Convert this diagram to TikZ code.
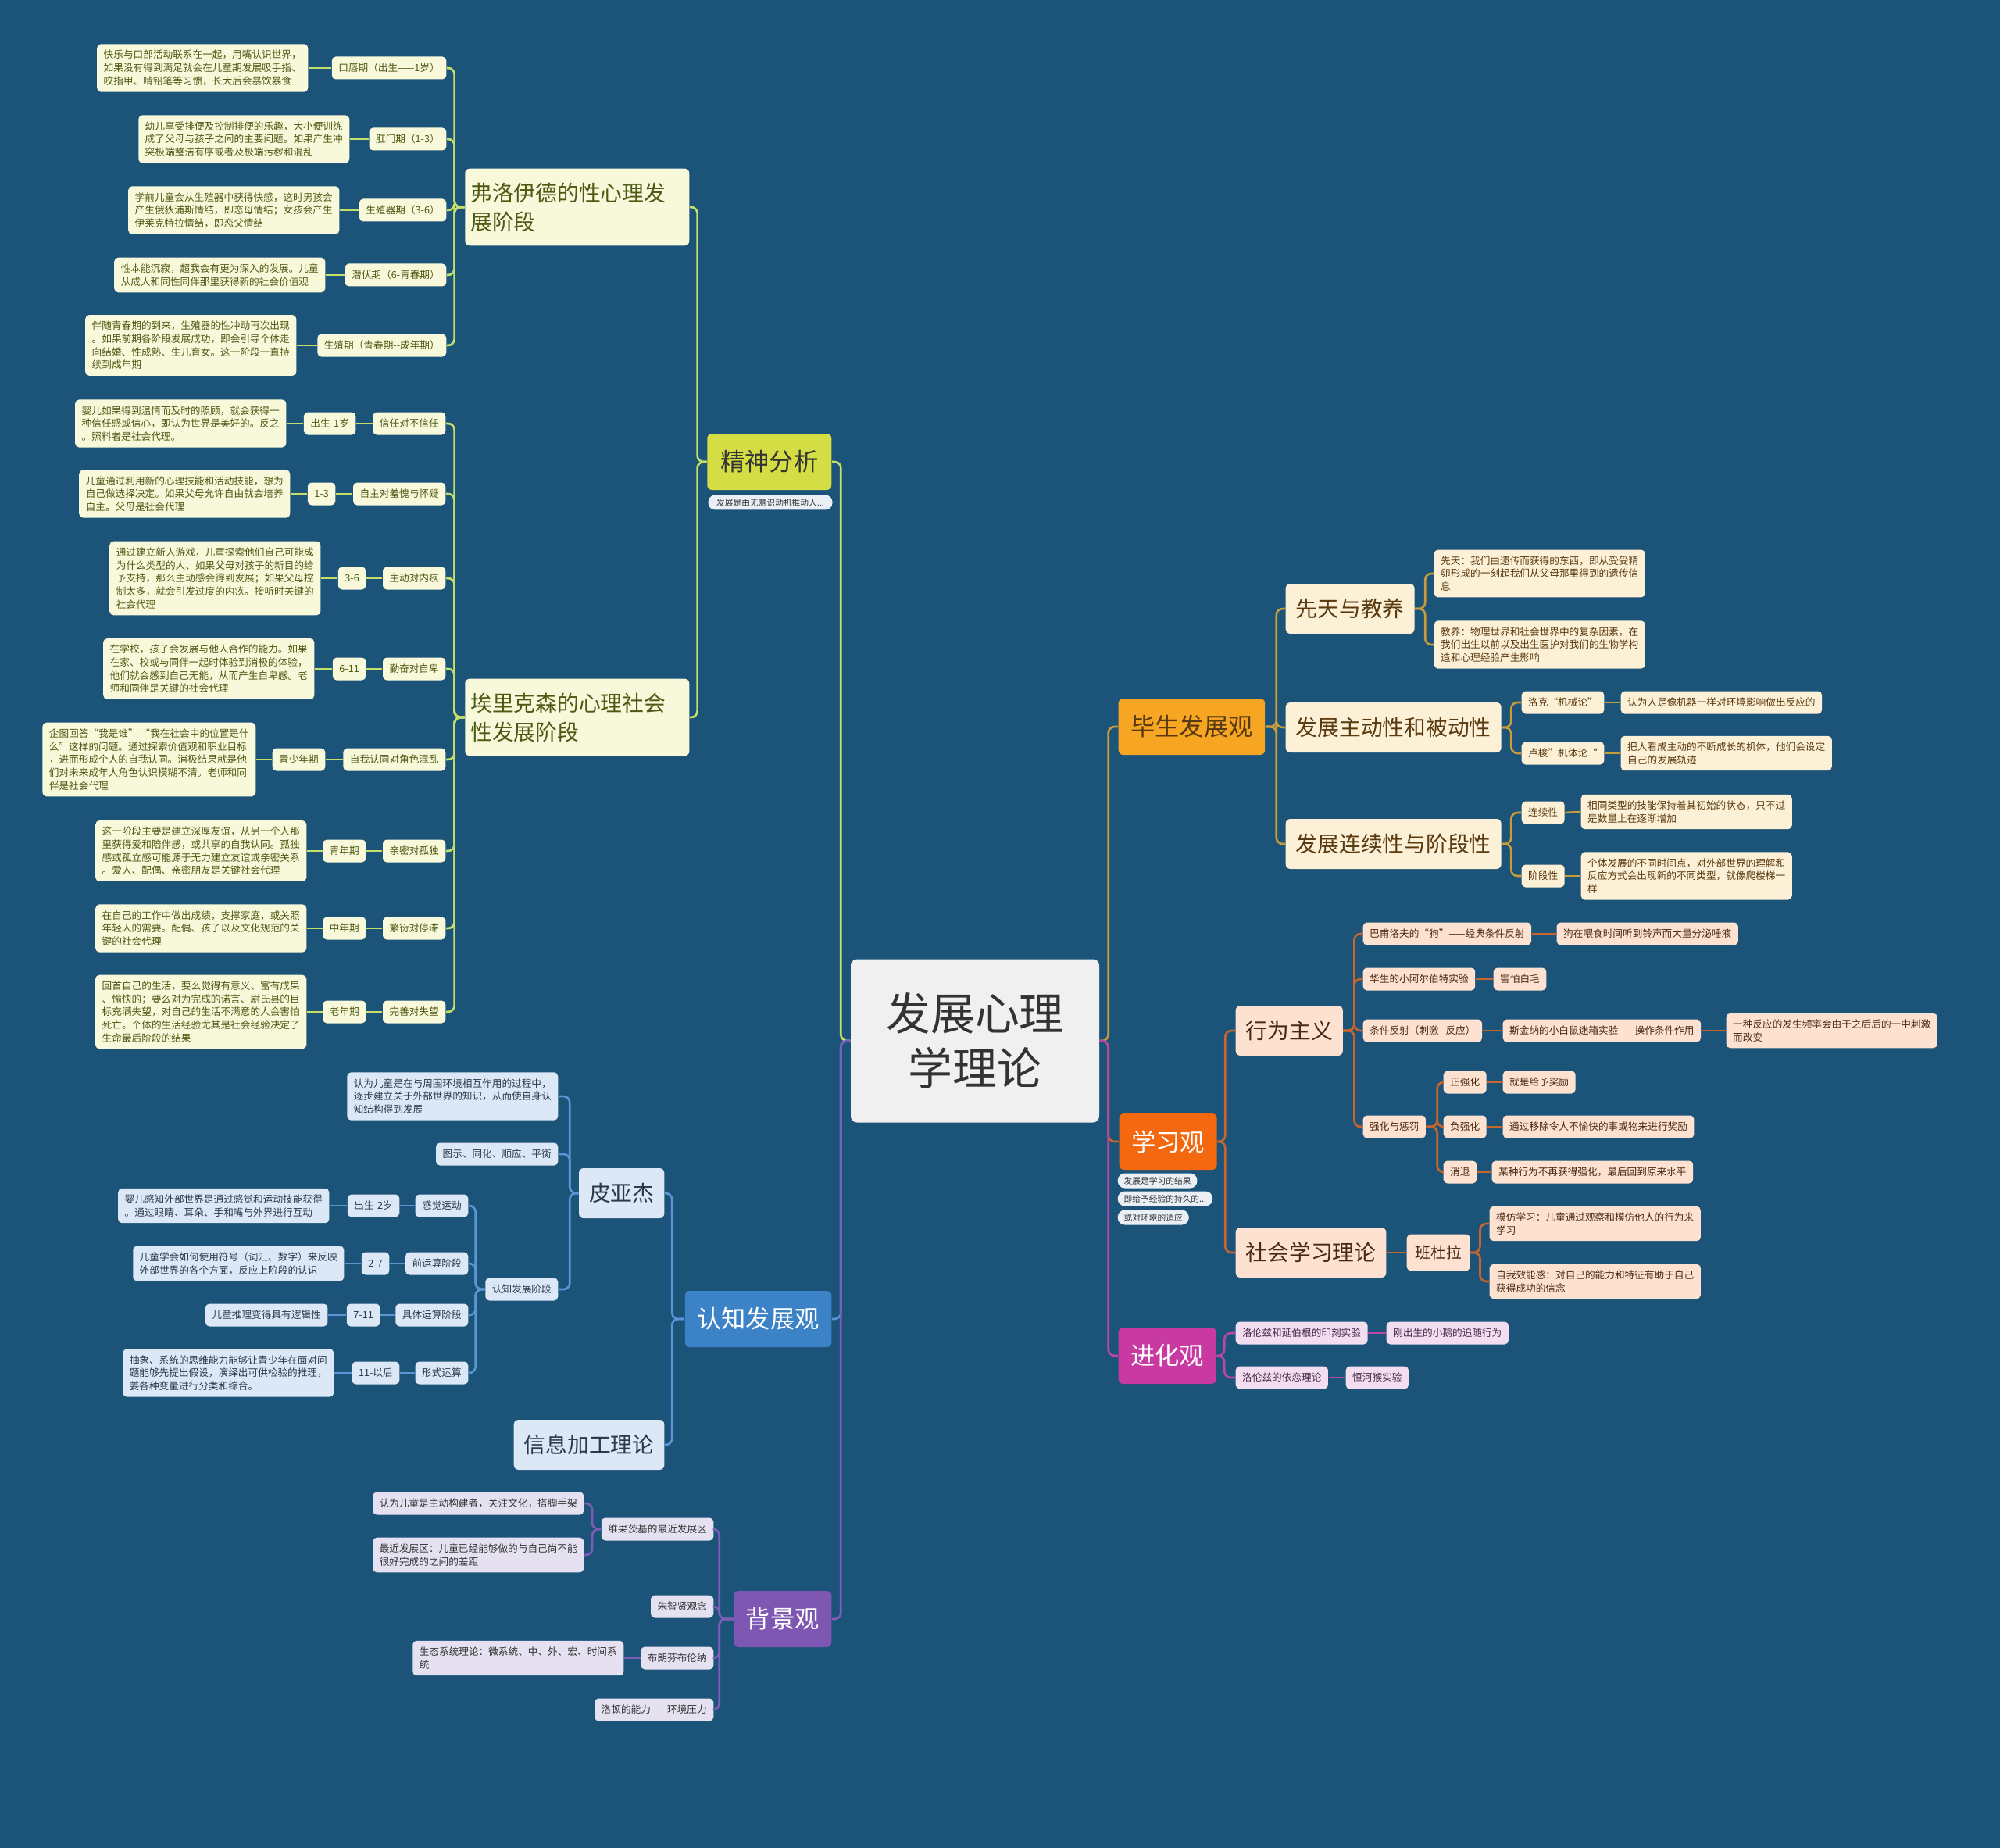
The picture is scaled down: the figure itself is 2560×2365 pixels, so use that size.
\documentclass[tikz,border=0pt]{standalone}
\usepackage{fontspec}
\setmainfont{Noto Sans CJK SC}
\definecolor{bgBlue}{HTML}{1B5379}
\definecolor{rootFill}{HTML}{F0F0F0}
\definecolor{rootText}{HTML}{333333}
\definecolor{pillFill}{HTML}{E9EFF5}
% 精神分析
\definecolor{psLine}{HTML}{C5DF68}
\definecolor{psMain}{HTML}{D4DD43}
\definecolor{psFill}{HTML}{F8F8DA}
\definecolor{psText}{HTML}{4E5A14}
% 认知发展观
\definecolor{cgLine}{HTML}{5A95D5}
\definecolor{cgMain}{HTML}{3C82C6}
\definecolor{cgFill}{HTML}{DCE8F5}
\definecolor{cgText}{HTML}{2B3A4A}
% 背景观
\definecolor{bkLine}{HTML}{7E5DB8}
\definecolor{bkMain}{HTML}{7E57B2}
\definecolor{bkFill}{HTML}{E6E1F1}
\definecolor{bkText}{HTML}{333333}
% 毕生发展观
\definecolor{lsLine}{HTML}{C99B3B}
\definecolor{lsMain}{HTML}{F6A623}
\definecolor{lsFill}{HTML}{FCF0D6}
\definecolor{lsText}{HTML}{5A3A10}
% 学习观
\definecolor{lnLine}{HTML}{C9642C}
\definecolor{lnMain}{HTML}{F4680F}
\definecolor{lnFill}{HTML}{FDE2D2}
\definecolor{lnText}{HTML}{4A2A14}
% 进化观
\definecolor{evLine}{HTML}{BA47A6}
\definecolor{evMain}{HTML}{C83AA1}
\definecolor{evFill}{HTML}{F3DEF1}
\definecolor{evText}{HTML}{4A2A48}
\newcommand\fsSm{\fontsize{3.6pt}{4.75pt}\selectfont}
\newcommand\fsPill{\fontsize{3.05pt}{3.6pt}\selectfont}
\newcommand\fsMd{\fontsize{7.9pt}{10.5pt}\selectfont}
\newcommand\fsBan{\fontsize{5.6pt}{7pt}\selectfont}
\newcommand\fsTop{\fontsize{8.9pt}{10.5pt}\selectfont}
\newcommand\fsRoot{\fontsize{16.2pt}{19.9pt}\selectfont}

\begin{document}
\begin{tikzpicture}[x=0.1mm, y=-0.1mm,
    sm/.style={font=\fsSm, rounded corners=0.5mm, inner xsep=0.85mm, inner ysep=0.8mm, minimum height=2.9mm, align=left},
    md/.style={font=\fsMd, rounded corners=0.6mm, inner xsep=1.3mm, inner ysep=0.8mm, minimum height=6.4mm, align=left},
    topbox/.style={font=\fsTop, rounded corners=0.6mm, inner xsep=1.55mm, minimum height=7.2mm},
    pill/.style={font=\fsPill, fill=pillFill, text=rootText, rounded corners=0.9mm, inner xsep=0.8mm, inner ysep=0.45mm},
    conn/.style={line width=0.75pt, rounded corners=0.8mm},
    psSm/.style={sm, fill=psFill, text=psText},
    cgSm/.style={sm, fill=cgFill, text=cgText},
    bkSm/.style={sm, fill=bkFill, text=bkText},
    lsSm/.style={sm, fill=lsFill, text=lsText},
    lnSm/.style={sm, fill=lnFill, text=lnText},
    evSm/.style={sm, fill=evFill, text=evText}]
    \useasboundingbox (0,0) rectangle (2560,2365);
    \fill[bgBlue] (0,0) rectangle (2560,2365);

    % 根节点
    \node[fill=rootFill, text=rootText, font=\fsRoot, rounded corners=0.8mm, align=center,
          minimum width=31.8mm, minimum height=20.9mm] (root) at (1248,1332) {发展心理\\学理论};

    % 精神分析
    \node[topbox, fill=psMain, text=rootText, minimum width=15.9mm, anchor=east] (jsfx) at (1065,591) {精神分析};
    \node[pill, font=\fontsize{3.05pt}{3.5pt}\selectfont, minimum width=15.9mm] (jsfxNote) at (986,643) {发展是由无意识动机推动人...};
    \node[md, fill=psFill, text=psText, text width=27.3mm, inner xsep=0.7mm, inner ysep=1.8mm, anchor=east] (freud) at (883,265) {弗洛伊德的性心理发\\展阶段};
    \node[md, fill=psFill, text=psText, text width=27.3mm, inner xsep=0.7mm, inner ysep=1.8mm, anchor=east] (erik) at (883,918) {埃里克森的心理社会\\性发展阶段};

    % 弗洛伊德各期
    \node[psSm, anchor=east] (fs1) at (572,87) {口唇期（出生——1岁）};
    \node[psSm, anchor=east] (fd1) at (395,87) {快乐与口部活动联系在一起，用嘴认识世界，\\如果没有得到满足就会在儿童期发展吸手指、\\咬指甲、啃铅笔等习惯，长大后会暴饮暴食};
    \node[psSm, anchor=east] (fs2) at (572,178) {肛门期（1-3）};
    \node[psSm, anchor=east] (fd2) at (448,178) {幼儿享受排便及控制排便的乐趣，大小便训练\\成了父母与孩子之间的主要问题。如果产生冲\\突极端整洁有序或者及极端污秽和混乱};
    \node[psSm, anchor=east] (fs3) at (572,269) {生殖器期（3-6）};
    \node[psSm, anchor=east] (fd3) at (435,269) {学前儿童会从生殖器中获得快感，这时男孩会\\产生俄狄浦斯情结，即恋母情结；女孩会产生\\伊莱克特拉情结，即恋父情结};
    \node[psSm, anchor=east] (fs4) at (572,352) {潜伏期（6-青春期）};
    \node[psSm, anchor=east] (fd4) at (417,352) {性本能沉寂，超我会有更为深入的发展。儿童\\从成人和同性同伴那里获得新的社会价值观};
    \node[psSm, anchor=east] (fs5) at (572,442) {生殖期（青春期-\kern0pt-成年期）};
    \node[psSm, anchor=east] (fd5) at (380,442) {伴随青春期的到来，生殖器的性冲动再次出现\\。如果前期各阶段发展成功，即会引导个体走\\向结婚、性成熟、生儿育女。这一阶段一直持\\续到成年期};

    % 埃里克森各期
    \node[psSm, anchor=east] (es1) at (571,542) {信任对不信任};
    \node[psSm, anchor=east] (ea1) at (456,542) {出生-1岁};
    \node[psSm, anchor=east] (ed1) at (367,542) {婴儿如果得到温情而及时的照顾，就会获得一\\种信任感或信心，即认为世界是美好的。反之\\。照料者是社会代理。};
    \node[psSm, anchor=east] (es2) at (571,632) {自主对羞愧与怀疑};
    \node[psSm, anchor=east] (ea2) at (430,632) {1-3};
    \node[psSm, anchor=east] (ed2) at (372,632) {儿童通过利用新的心理技能和活动技能，想为\\自己做选择决定。如果父母允许自由就会培养\\自主。父母是社会代理};
    \node[psSm, anchor=east] (es3) at (571,740) {主动对内疚};
    \node[psSm, anchor=east] (ea3) at (469,740) {3-6};
    \node[psSm, anchor=east] (ed3) at (411,740) {通过建立新人游戏，儿童探索他们自己可能成\\为什么类型的人、如果父母对孩子的新目的给\\予支持，那么主动感会得到发展；如果父母控\\制太多，就会引发过度的内疚。接听时关键的\\社会代理};
    \node[psSm, anchor=east] (es4) at (571,856) {勤奋对自卑};
    \node[psSm, anchor=east] (ea4) at (469,856) {6-11};
    \node[psSm, anchor=east] (ed4) at (403,856) {在学校，孩子会发展与他人合作的能力。如果\\在家、校或与同伴一起时体验到消极的体验，\\他们就会感到自己无能，从而产生自卑感。老\\师和同伴是关键的社会代理};
    \node[psSm, anchor=east] (es5) at (571,972) {自我认同对角色混乱};
    \node[psSm, anchor=east] (ea5) at (417,972) {青少年期};
    \node[psSm, anchor=east] (ed5) at (328,972) {企图回答“我是谁” “我在社会中的位置是什\\么”这样的问题。通过探索价值观和职业目标\\，进而形成个人的自我认同。消极结果就是他\\们对未来成年人角色认识模糊不清。老师和同\\伴是社会代理};
    \node[psSm, anchor=east] (es6) at (571,1089) {亲密对孤独};
    \node[psSm, anchor=east] (ea6) at (469,1089) {青年期};
    \node[psSm, anchor=east] (ed6) at (393,1089) {这一阶段主要是建立深厚友谊，从另一个人那\\里获得爱和陪伴感，或共享的自我认同。孤独\\感或孤立感可能源于无力建立友谊或亲密关系\\。爱人、配偶、亲密朋友是关键社会代理};
    \node[psSm, anchor=east] (es7) at (571,1188) {繁衍对停滞};
    \node[psSm, anchor=east] (ea7) at (469,1188) {中年期};
    \node[psSm, anchor=east] (ed7) at (393,1188) {在自己的工作中做出成绩，支撑家庭，或关照\\年轻人的需要。配偶、孩子以及文化规范的关\\键的社会代理};
    \node[psSm, anchor=east] (es8) at (571,1295) {完善对失望};
    \node[psSm, anchor=east] (ea8) at (469,1295) {老年期};
    \node[psSm, anchor=east] (ed8) at (393,1295) {回首自己的生活，要么觉得有意义、富有成果\\、愉快的；要么对为完成的诺言、尉氏县的目\\标充满失望，对自己的生活不满意的人会害怕\\死亡。个体的生活经验尤其是社会经验决定了\\生命最后阶段的结果};

    % 认知发展观
    \node[topbox, fill=cgMain, text=white, anchor=east] (cog) at (1065,1688) {认知发展观};
    \node[md, fill=cgFill, text=cgText, anchor=east] (pia) at (851,1527) {皮亚杰};
    \node[md, fill=cgFill, text=cgText, anchor=east] (info) at (851,1849) {信息加工理论};
    \node[cgSm, anchor=east] (pd1) at (715,1403) {认为儿童是在与周围环境相互作用的过程中，\\逐步建立关于外部世界的知识，从而使自身认\\知结构得到发展};
    \node[cgSm, anchor=east] (pd2) at (715,1477) {图示、同化、顺应、平衡};
    \node[cgSm, anchor=east] (pstage) at (715,1650) {认知发展阶段};
    \node[cgSm, anchor=east] (st1) at (600,1543) {感觉运动};
    \node[cgSm, anchor=east] (ag1) at (512,1543) {出生-2岁};
    \node[cgSm, anchor=east] (sd1) at (422,1543) {婴儿感知外部世界是通过感觉和运动技能获得\\。通过眼睛、耳朵、手和嘴与外界进行互动};
    \node[cgSm, anchor=east] (st2) at (600,1617) {前运算阶段};
    \node[cgSm, anchor=east] (ag2) at (499,1617) {2-7};
    \node[cgSm, anchor=east] (sd2) at (441,1617) {儿童学会如何使用符号（词汇、数字）来反映\\外部世界的各个方面，反应上阶段的认识};
    \node[cgSm, anchor=east] (st3) at (600,1683) {具体运算阶段};
    \node[cgSm, anchor=east] (ag3) at (487,1683) {7-11};
    \node[cgSm, anchor=east] (sd3) at (420,1683) {儿童推理变得具有逻辑性};
    \node[cgSm, anchor=east] (st4) at (600,1757) {形式运算};
    \node[cgSm, anchor=east] (ag4) at (512,1757) {11-以后};
    \node[cgSm, anchor=east] (sd4) at (428,1757) {抽象、系统的思维能力能够让青少年在面对问\\题能够先提出假设，演绎出可供检验的推理，\\姜各种变量进行分类和综合。};

    % 背景观
    \node[topbox, fill=bkMain, text=white, anchor=east] (bkg) at (1065,2072) {背景观};
    \node[bkSm, anchor=east] (vyg) at (914,1957) {维果茨基的最近发展区};
    \node[bkSm, anchor=east] (vd1) at (748,1924) {认为儿童是主动构建者，关注文化，搭脚手架};
    \node[bkSm, anchor=east] (vd2) at (748,1990) {最近发展区：儿童已经能够做的与自己尚不能\\很好完成的之间的差距};
    \node[bkSm, anchor=east] (zhu) at (914,2056) {朱智贤观念};
    \node[bkSm, anchor=east] (bron) at (914,2122) {布朗芬布伦纳};
    \node[bkSm, anchor=east] (brd) at (799,2122) {生态系统理论：微系统、中、外、宏、时间系\\统};
    \node[bkSm, anchor=east] (luo) at (914,2188) {洛顿的能力——环境压力};

    % 毕生发展观
    \node[topbox, fill=lsMain, text=lsText, anchor=west] (life) at (1431,930) {毕生发展观};
    \node[md, fill=lsFill, text=lsText, anchor=west] (nat) at (1645,779) {先天与教养};
    \node[md, fill=lsFill, text=lsText, anchor=west] (act) at (1645,931) {发展主动性和被动性};
    \node[md, fill=lsFill, text=lsText, anchor=west] (cont) at (1645,1080) {发展连续性与阶段性};
    \node[lsSm, anchor=west] (natd1) at (1835,734) {先天：我们由遗传而获得的东西，即从受受精\\卵形成的一刻起我们从父母那里得到的遗传信\\息};
    \node[lsSm, anchor=west] (natd2) at (1835,825) {教养：物理世界和社会世界中的复杂因素，在\\我们出生以前以及出生医护对我们的生物学构\\造和心理经验产生影响};
    \node[lsSm, anchor=west] (locke) at (1947,899) {洛克“机械论”};
    \node[lsSm, anchor=west] (locked) at (2074,899) {认为人是像机器一样对环境影响做出反应的};
    \node[lsSm, anchor=west] (rous) at (1947,964) {卢梭”机体论“};
    \node[lsSm, anchor=west] (rousd) at (2074,964) {把人看成主动的不断成长的机体，他们会设定\\自己的发展轨迹};
    \node[lsSm, anchor=west] (contn) at (1947,1040) {连续性};
    \node[lsSm, anchor=west] (contd) at (2023,1039) {相同类型的技能保持着其初始的状态，只不过\\是数量上在逐渐增加};
    \node[lsSm, anchor=west] (stg) at (1947,1121) {阶段性};
    \node[lsSm, anchor=west] (stgd) at (2023,1121) {个体发展的不同时间点，对外部世界的理解和\\反应方式会出现新的不同类型，就像爬楼梯一\\样};

    % 学习观
    \node[topbox, fill=lnMain, text=white, anchor=west] (learn) at (1432,1461) {学习观};
    \node[pill, anchor=west] (lnote1) at (1430,1511) {发展是学习的结果};
    \node[pill, anchor=west] (lnote2) at (1430,1534) {即给予经验的持久的...};
    \node[pill, anchor=west] (lnote3) at (1430,1558) {或对环境的适应};
    \node[md, fill=lnFill, text=lnText, anchor=west] (beh) at (1581,1319) {行为主义};
    \node[md, fill=lnFill, text=lnText, anchor=west] (soc) at (1581,1603) {社会学习理论};
    \node[lnSm, anchor=west] (pav) at (1744,1195) {巴甫洛夫的“狗”——经典条件反射};
    \node[lnSm, anchor=west] (pavd) at (1992,1195) {狗在喂食时间听到铃声而大量分泌唾液};
    \node[lnSm, anchor=west] (wat) at (1744,1253) {华生的小阿尔伯特实验};
    \node[lnSm, anchor=west] (watd) at (1911,1253) {害怕白毛};
    \node[lnSm, anchor=west] (cond) at (1744,1319) {条件反射（刺激-\kern0pt-反应）};
    \node[lnSm, anchor=west] (skin) at (1923,1319) {斯金纳的小白鼠迷箱实验——操作条件作用};
    \node[lnSm, anchor=west] (skind) at (2209,1319) {一种反应的发生频率会由于之后后的一中刺激\\而改变};
    \node[lnSm, anchor=west] (reinf) at (1744,1442) {强化与惩罚};
    \node[lnSm, anchor=west] (pos) at (1847,1385) {正强化};
    \node[lnSm, anchor=west] (posd) at (1923,1385) {就是给予奖励};
    \node[lnSm, anchor=west] (neg) at (1847,1442) {负强化};
    \node[lnSm, anchor=west] (negd) at (1923,1442) {通过移除令人不愉快的事或物来进行奖励};
    \node[lnSm, anchor=west] (ext) at (1847,1500) {消退};
    \node[lnSm, anchor=west] (extd) at (1909,1500) {某种行为不再获得强化，最后回到原来水平};
    \node[md, font=\fsBan, fill=lnFill, text=lnText, inner xsep=1.1mm, minimum height=4.7mm, anchor=west] (ban) at (1800,1603) {班杜拉};
    \node[lnSm, anchor=west] (bd1) at (1906,1566) {模仿学习：儿童通过观察和模仿他人的行为来\\学习};
    \node[lnSm, anchor=west] (bd2) at (1906,1640) {自我效能感：对自己的能力和特征有助于自己\\获得成功的信念};

    % 进化观
    \node[topbox, fill=evMain, text=white, anchor=west] (evo) at (1431,1735) {进化观};
    \node[evSm, anchor=west] (ev1) at (1581,1706) {洛伦兹和延伯根的印刻实验};
    \node[evSm, anchor=west] (ev1d) at (1774,1706) {刚出生的小鹅的追随行为};
    \node[evSm, anchor=west] (ev2) at (1581,1763) {洛伦兹的依恋理论};
    \node[evSm, anchor=west] (ev2d) at (1722,1763) {恒河猴实验};

    % 连线：根节点
    \draw[conn, psLine] (root.west) -- ++(-12,0) |- (jsfx.east);
    \draw[conn, cgLine] (root.west) -- ++(-12,0) |- (cog.east);
    \draw[conn, bkLine] (root.west) -- ++(-12,0) |- (bkg.east);
    \draw[conn, lsLine] (root.east) -- ++(11,0) |- (life.west);
    \draw[conn, lnLine] (root.east) -- ++(11,0) |- (learn.west);
    \draw[conn, evLine] (root.east) -- ++(11,0) |- (evo.west);

    % 连线：精神分析
    \draw[conn, psLine] (jsfx.west) -- ++(-12,0) |- (freud.east);
    \draw[conn, psLine] (jsfx.west) -- ++(-12,0) |- (erik.east);
    \draw[conn, psLine] (freud.west) -- ++(-13,0) |- (fs1.east);
    \draw[conn, psLine] (freud.west) -- ++(-13,0) |- (fs2.east);
    \draw[conn, psLine] (freud.west) -- ++(-13,0) |- (fs3.east);
    \draw[conn, psLine] (freud.west) -- ++(-13,0) |- (fs4.east);
    \draw[conn, psLine] (freud.west) -- ++(-13,0) |- (fs5.east);
    \draw[conn, psLine] (fs1.west) -- (fd1.east);
    \draw[conn, psLine] (fs2.west) -- (fd2.east);
    \draw[conn, psLine] (fs3.west) -- (fd3.east);
    \draw[conn, psLine] (fs4.west) -- (fd4.east);
    \draw[conn, psLine] (fs5.west) -- (fd5.east);
    \draw[conn, psLine] (erik.west) -- ++(-13,0) |- (es1.east);
    \draw[conn, psLine] (erik.west) -- ++(-13,0) |- (es2.east);
    \draw[conn, psLine] (erik.west) -- ++(-13,0) |- (es3.east);
    \draw[conn, psLine] (erik.west) -- ++(-13,0) |- (es4.east);
    \draw[conn, psLine] (erik.west) -- ++(-13,0) |- (es5.east);
    \draw[conn, psLine] (erik.west) -- ++(-13,0) |- (es6.east);
    \draw[conn, psLine] (erik.west) -- ++(-13,0) |- (es7.east);
    \draw[conn, psLine] (erik.west) -- ++(-13,0) |- (es8.east);
    \draw[conn, psLine] (es1.west) -- (ea1.east) (ea1.west) -- (ed1.east);
    \draw[conn, psLine] (es2.west) -- (ea2.east) (ea2.west) -- (ed2.east);
    \draw[conn, psLine] (es3.west) -- (ea3.east) (ea3.west) -- (ed3.east);
    \draw[conn, psLine] (es4.west) -- (ea4.east) (ea4.west) -- (ed4.east);
    \draw[conn, psLine] (es5.west) -- (ea5.east) (ea5.west) -- (ed5.east);
    \draw[conn, psLine] (es6.west) -- (ea6.east) (ea6.west) -- (ed6.east);
    \draw[conn, psLine] (es7.west) -- (ea7.east) (ea7.west) -- (ed7.east);
    \draw[conn, psLine] (es8.west) -- (ea8.east) (ea8.west) -- (ed8.east);

    % 连线：认知发展观
    \draw[conn, cgLine] (cog.west) -- ++(-16,0) |- (pia.east);
    \draw[conn, cgLine] (cog.west) -- ++(-16,0) |- (info.east);
    \draw[conn, cgLine] (pia.west) -- ++(-11,0) |- (pd1.east);
    \draw[conn, cgLine] (pia.west) -- ++(-11,0) |- (pd2.east);
    \draw[conn, cgLine] (pia.west) -- ++(-11,0) |- (pstage.east);
    \draw[conn, cgLine] (pstage.west) -- ++(-12,0) |- (st1.east);
    \draw[conn, cgLine] (pstage.west) -- ++(-12,0) |- (st2.east);
    \draw[conn, cgLine] (pstage.west) -- ++(-12,0) |- (st3.east);
    \draw[conn, cgLine] (pstage.west) -- ++(-12,0) |- (st4.east);
    \draw[conn, cgLine] (st1.west) -- (ag1.east) (ag1.west) -- (sd1.east);
    \draw[conn, cgLine] (st2.west) -- (ag2.east) (ag2.west) -- (sd2.east);
    \draw[conn, cgLine] (st3.west) -- (ag3.east) (ag3.west) -- (sd3.east);
    \draw[conn, cgLine] (st4.west) -- (ag4.east) (ag4.west) -- (sd4.east);

    % 连线：背景观
    \draw[conn, bkLine] (bkg.west) -- ++(-18,0) |- (vyg.east);
    \draw[conn, bkLine] (bkg.west) -- ++(-18,0) |- (zhu.east);
    \draw[conn, bkLine] (bkg.west) -- ++(-18,0) |- (bron.east);
    \draw[conn, bkLine] (bkg.west) -- ++(-18,0) |- (luo.east);
    \draw[conn, bkLine] (vyg.west) -- ++(-11,0) |- (vd1.east);
    \draw[conn, bkLine] (vyg.west) -- ++(-11,0) |- (vd2.east);
    \draw[conn, bkLine] (bron.west) -- (brd.east);

    % 连线：毕生发展观
    \draw[conn, lsLine] (life.east) -- ++(14,0) |- (nat.west);
    \draw[conn, lsLine] (life.east) -- ++(14,0) |- (act.west);
    \draw[conn, lsLine] (life.east) -- ++(14,0) |- (cont.west);
    \draw[conn, lsLine] (nat.east) -- ++(13,0) |- (natd1.west);
    \draw[conn, lsLine] (nat.east) -- ++(13,0) |- (natd2.west);
    \draw[conn, lsLine] (act.east) -- ++(12,0) |- (locke.west);
    \draw[conn, lsLine] (act.east) -- ++(12,0) |- (rous.west);
    \draw[conn, lsLine] (locke.east) -- (locked.west);
    \draw[conn, lsLine] (rous.east) -- (rousd.west);
    \draw[conn, lsLine] (cont.east) -- ++(12,0) |- (contn.west);
    \draw[conn, lsLine] (cont.east) -- ++(12,0) |- (stg.west);
    \draw[conn, lsLine] (contn.east) -- (contd.west);
    \draw[conn, lsLine] (stg.east) -- (stgd.west);

    % 连线：学习观
    \draw[conn, lnLine] (learn.east) -- ++(10,0) |- (beh.west);
    \draw[conn, lnLine] (learn.east) -- ++(10,0) |- (soc.west);
    \draw[conn, lnLine] (beh.east) -- ++(14,0) |- (pav.west);
    \draw[conn, lnLine] (beh.east) -- ++(14,0) |- (wat.west);
    \draw[conn, lnLine] (beh.east) -- ++(14,0) |- (cond.west);
    \draw[conn, lnLine] (beh.east) -- ++(14,0) |- (reinf.west);
    \draw[conn, lnLine] (pav.east) -- (pavd.west);
    \draw[conn, lnLine] (wat.east) -- (watd.west);
    \draw[conn, lnLine] (cond.east) -- (skin.west) (skin.east) -- (skind.west);
    \draw[conn, lnLine] (reinf.east) -- ++(14,0) |- (pos.west);
    \draw[conn, lnLine] (reinf.east) -- ++(14,0) |- (neg.west);
    \draw[conn, lnLine] (reinf.east) -- ++(14,0) |- (ext.west);
    \draw[conn, lnLine] (pos.east) -- (posd.west);
    \draw[conn, lnLine] (neg.east) -- (negd.west);
    \draw[conn, lnLine] (ext.east) -- (extd.west);
    \draw[conn, lnLine] (soc.east) -- (ban.west);
    \draw[conn, lnLine] (ban.east) -- ++(12,0) |- (bd1.west);
    \draw[conn, lnLine] (ban.east) -- ++(12,0) |- (bd2.west);

    % 连线：进化观
    \draw[conn, evLine] (evo.east) -- ++(10,0) |- (ev1.west);
    \draw[conn, evLine] (evo.east) -- ++(10,0) |- (ev2.west);
    \draw[conn, evLine] (ev1.east) -- (ev1d.west);
    \draw[conn, evLine] (ev2.east) -- (ev2d.west);
\end{tikzpicture}
\end{document}
